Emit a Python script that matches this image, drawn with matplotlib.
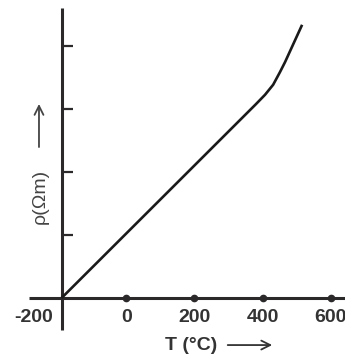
import matplotlib
matplotlib.use("Agg")
import matplotlib.pyplot as plt

# resistivity vs temperature
temp = [-190, 380, 407, 431, 451, 466, 516]
rho = [0, 3.07, 3.22, 3.38, 3.58, 3.74, 4.33]

x_ticks = [0, 200, 400, 600]
x_tick_labels = ['0', '200', '400', '600']
y_ticks = [1, 2, 3, 4]
y_axis_at = -190

plt.rcParams['font.family'] = ['Liberation Sans', 'DejaVu Sans']

fig = plt.figure(figsize=(3.45, 3.55), dpi=100)
ax = fig.add_axes([0, 0, 1, 1])
ax.set_xlim(-370.7, 641.9)
ax.set_ylim(-0.903, 4.723)

axis_col = '#2b2929'
txt_col = '#333333'

# axes drawn as crossing spines
for s in ['top', 'right']:
    ax.spines[s].set_visible(False)
ax.spines['left'].set_position(('data', y_axis_at))
ax.spines['left'].set_bounds(-0.51, 4.6)
ax.spines['bottom'].set_position(('data', 0))
ax.spines['bottom'].set_bounds(-286, 641.9)
for s in ['left', 'bottom']:
    ax.spines[s].set_linewidth(2.2)
    ax.spines[s].set_color(axis_col)
    ax.spines[s].set_capstyle('butt')

ax.set_yticks(y_ticks)
ax.tick_params(axis='y', direction='in', length=8, width=1.6, colors=axis_col, labelleft=False)
ax.set_xticks([])

# dots on the x axis + labels
ax.plot(x_ticks, [0] * len(x_ticks), 'o', color=axis_col, ms=4.5, clip_on=False)
for t, lab in zip(x_ticks, x_tick_labels):
    ax.annotate(lab, (t, 0), xytext=(0, -14), textcoords='offset points',
                ha='center', va='center', fontsize=14, fontweight='bold', color=txt_col)
ax.annotate('-200', (y_axis_at, 0), xytext=(-6, -14), textcoords='offset points',
            ha='right', va='center', fontsize=14, fontweight='bold', color=txt_col)

# the curve
ax.plot(temp, rho, color='#1a1a1a', lw=1.9, solid_capstyle='butt', zorder=3)

# axis titles with arrows
ax.text(0.555, 0.028, 'T (°C)', transform=ax.transAxes, ha='center', va='center',
        fontsize=14, fontweight='bold', color=txt_col)
ax.annotate('', xy=(0.797, 0.028), xytext=(0.652, 0.028), xycoords='axes fraction',
            arrowprops=dict(arrowstyle='->', lw=1.3, color=txt_col, mutation_scale=16))
ax.text(0.116, 0.447, 'ρ(Ωm)', transform=ax.transAxes, rotation=90, ha='center', va='center',
        fontsize=14, color='#444444')
ax.annotate('', xy=(0.113, 0.715), xytext=(0.113, 0.578), xycoords='axes fraction',
            arrowprops=dict(arrowstyle='->', lw=1.3, color='#444444', mutation_scale=16))

fig.savefig('out.png', dpi=100)
